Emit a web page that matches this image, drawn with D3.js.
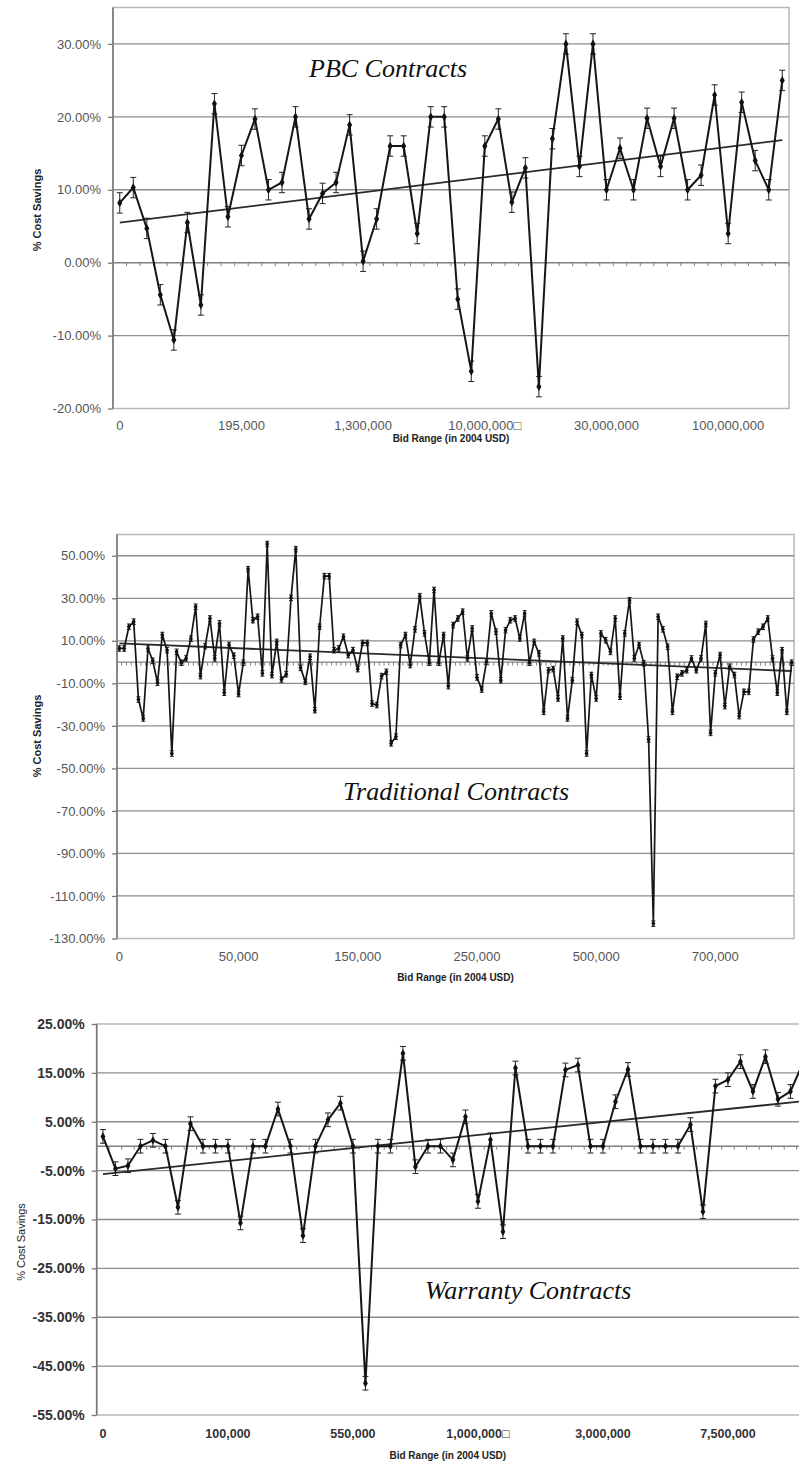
<!DOCTYPE html>
<html><head><meta charset="utf-8">
<script src="https://cdn.jsdelivr.net/npm/d3@7"></script>
<style>
html,body{margin:0;padding:0;background:#fff;}
svg{display:block;}
</style></head><body>
<svg id="c" width="799" height="1465"></svg>
<script>
// ---------- PBC Contracts ----------
const pbcValues = [8.2, 10.3, 4.7, -4.4, -10.6, 5.5, -5.8, 21.8, 6.3, 14.7,
  19.7, 10, 11, 20, 6, 9.5, 11, 18.9, 0.2, 6,
  16, 16, 4, 20, 20, -5, -14.9, 16, 19.7, 8.3,
  13, -17, 17, 30, 13.2, 30, 10, 15.7, 10, 19.8,
  13.2, 19.8, 10, 12, 23, 4, 22, 14, 10, 25];
const pbcXLabels = ["0", "195,000", "1,300,000", "10,000,000\u25A1", "30,000,000", "100,000,000"];
const pbcXLabelIdx = [0, 9, 18, 27, 36, 45];
const pbcYTicks = [-20, -10, 0, 10, 20, 30];
const pbcTrend = [5.5, 16.8];
const pbcErr = 1.4;

// ---------- Traditional Contracts ----------
const tradValues = [6.4, 6.4, 16.6, 19, -17.6, -26.5, 6.4, 0.6, -9.7, 12.7,
  5.6, -43, 4.8, -0.3, 1.7, 11, 26, -6.6, 7.5, 20.5,
  1.7, 18.2, -14.4, 8, 3, -15, -0.3, 43.7, 19.7, 21.3,
  -5.3, 55.5, -6.1, 9.5, -8.2, -5.7, 30.2, 53.1, -2.7, -9.3,
  2.5, -22.6, 16.6, 40.4, 40.4, 5.6, 6.4, 11.9, 3.3, 5.6,
  -3.3, 9, 9, -19.5, -20.2, -6.6, -4.6, -38.2, -35.1, 8,
  12.7, -1.4, 15.4, 31, 13.5, -0.3, 33.9, -0.3, 12.7, -11.3,
  17.4, 20.5, 23.7, 1.7, 15.8, -7.2, -12.9, 0.1, 22.9, 14.3,
  -8.5, 15, 19.7, 20.5, 11.1, 22.9, -0.3, 9.5, 4.1, -23.4,
  -3.8, -3.3, -17.1, 11.1, -26.5, -8.5, 19, 12.7, -43, -6.1,
  -17.1, 13.5, 10.3, 4.8, 20.5, -16.3, 13.5, 29.1, 1.7, 8,
  -0.6, -36.4, -123, 21.3, 15.4, 7.2, -23.4, -6.9, -5.3, -3.8,
  1.7, -3.8, 1.7, 17.9, -33.3, -5.3, 3.3, -20.7, -2.2, -6.1,
  -25.4, -14, -14, 10.6, 14.3, 16.6, 20.5, 1.7, -14.4, 5.6,
  -23.4, -0.3];
const tradXLabels = ["0", "50,000", "150,000", "250,000", "500,000", "700,000"];
const tradXLabelIdx = [0, 25, 50, 75, 100, 125];
const tradYTicks = [-130, -110, -90, -70, -50, -30, -10, 10, 30, 50];
const tradTrend = [8.8, -4.2];
const tradErr = 1.3;

// ---------- Warranty Contracts ----------
const warValues = [2, -4.6, -4.0, 0, 1.2, 0, -12.5, 4.6, 0, 0,
  0, -15.7, 0, 0, 7.6, 0, -18.3, 0, 5.4, 8.8,
  0, -48.5, 0, 0, 19, -4.2, 0, 0, -2.8, 6,
  -11.3, 1.3, -17.5, 16, 0, 0, 0, 15.6, 16.6, 0,
  0, 9.1, 15.7, 0, 0, 0, 0, 4.4, -13.4, 12.3,
  13.6, 17.3, 11.2, 18.3, 9.6, 11.2, 17];
const warXLabels = ["0", "100,000", "550,000", "1,000,000\u25A1", "3,000,000", "7,500,000"];
const warXLabelIdx = [0, 10, 20, 30, 40, 50];
const warYTicks = [-55, -45, -35, -25, -15, -5, 5, 15, 25];
const warTrend = [-5.7, 9.2];
const warErr = 1.4;

const svg = d3.select("#c");
const SANS = "'Liberation Sans', Arial, sans-serif";
const SERIF = "'Liberation Serif', 'Times New Roman', serif";

function drawChart(o) {
  const g = svg.append("g");
  const n = o.values.length;
  const x = d3.scaleBand().domain(d3.range(n)).range([o.left, o.right]);
  const y = d3.scaleLinear().domain(o.yDomain).range([o.bottom, o.top]);
  const cx = i => x(i) + x.bandwidth() / 2;

  // plot border (top/right/bottom)
  g.append("rect").attr("x", o.left).attr("y", o.top)
    .attr("width", o.right - o.left).attr("height", o.bottom - o.top)
    .attr("fill", "none").attr("stroke", "#b8b8b8").attr("stroke-width", 1.5);

  // gridlines
  g.selectAll("line.grid").data(o.yTicks.filter(d => d !== 0 && d !== o.yDomain[0] && d !== o.yDomain[1]))
    .join("line").attr("class", "grid")
    .attr("x1", o.left).attr("x2", o.right)
    .attr("y1", d => y(d)).attr("y2", d => y(d))
    .attr("stroke", "#8c8c8c").attr("stroke-width", 1.3);

  // y axis
  const ya = d3.axisLeft(y).tickValues(o.yTicks).tickSize(5).tickPadding(7)
    .tickFormat(d => d.toFixed(2) + "%");
  const yg = g.append("g").attr("transform", `translate(${o.left},0)`).call(ya);
  yg.select(".domain").remove();
  yg.selectAll(".tick line").attr("stroke", "#777").attr("stroke-width", 1.3);
  yg.selectAll(".tick text").attr("font-family", SANS).attr("font-size", o.yFont)
    .attr("font-weight", o.yBold ? "bold" : "normal").attr("fill", o.yColor);
  g.append("line").attr("x1", o.left).attr("x2", o.left).attr("y1", o.top).attr("y2", o.bottom)
    .attr("stroke", "#7a7a7a").attr("stroke-width", 1.6);

  // category axis at zero with ticks at band boundaries
  const y0 = y(0);
  g.append("line").attr("x1", o.left).attr("x2", o.right).attr("y1", y0).attr("y2", y0)
    .attr("stroke", "#808080").attr("stroke-width", 1.4);
  g.selectAll("line.ctick").data(d3.range(n + 1)).join("line").attr("class", "ctick")
    .attr("x1", i => o.left + i * x.step()).attr("x2", i => o.left + i * x.step())
    .attr("y1", y0).attr("y2", y0 + 3.5)
    .attr("stroke", "#808080").attr("stroke-width", 1);

  // x labels
  const xa = d3.axisBottom(x).tickValues(o.xLabelIdx).tickSize(0).tickPadding(0)
    .tickFormat((d, k) => o.xLabels[k]);
  const xg = g.append("g").attr("transform", `translate(0,${o.xLabelY})`).call(xa);
  xg.select(".domain").remove();
  xg.selectAll(".tick text").attr("dy", 0).attr("y", 0).attr("font-family", SANS)
    .attr("font-size", o.xFont).attr("font-weight", o.xBold ? "bold" : "normal").attr("fill", o.xColor);

  // axis titles
  g.append("text").attr("x", (o.left + Math.min(o.right, 799)) / 2 + (o.xTitleShift || 0)).attr("y", o.xTitleY)
    .attr("text-anchor", "middle").attr("font-family", SANS).attr("font-size", o.xTitleFont)
    .attr("font-weight", "bold").attr("fill", "#222").text("Bid Range (in 2004 USD)");
  g.append("text").attr("transform", `translate(${o.yTitleX},${o.yTitleY}) rotate(-90)`)
    .attr("text-anchor", "middle").attr("font-family", SANS).attr("font-size", o.yTitleFont)
    .attr("font-weight", o.yTitleBold ? "bold" : "normal").attr("fill", "#222").text("% Cost Savings");

  // trend line
  g.append("line").attr("x1", cx(0)).attr("x2", cx(n - 1))
    .attr("y1", y(o.trend[0])).attr("y2", y(o.trend[1]))
    .attr("stroke", "#2a2a2a").attr("stroke-width", 1.8);

  // error bars
  const eb = g.append("g").attr("stroke", "#222").attr("stroke-width", 1);
  o.values.forEach((v, i) => {
    const xc = cx(i), yt = y(v + o.err), yb = y(v - o.err);
    eb.append("line").attr("x1", xc).attr("x2", xc).attr("y1", yt).attr("y2", yb);
    eb.append("line").attr("x1", xc - o.cap).attr("x2", xc + o.cap).attr("y1", yt).attr("y2", yt);
    eb.append("line").attr("x1", xc - o.cap).attr("x2", xc + o.cap).attr("y1", yb).attr("y2", yb);
  });

  // data line
  g.append("path").datum(o.values)
    .attr("d", d3.line().x((d, i) => cx(i)).y(d => y(d)))
    .attr("fill", "none").attr("stroke", "#161616").attr("stroke-width", o.lineW)
    .attr("stroke-linejoin", "miter");

  // markers
  g.selectAll("path.mk").data(o.values).join("path").attr("class", "mk")
    .attr("d", d3.symbol(d3.symbolDiamond, o.mk))
    .attr("transform", (d, i) => `translate(${cx(i)},${y(d)})`)
    .attr("fill", "#111");

  // chart title
  g.append("text").attr("x", o.titleX).attr("y", o.titleY)
    .attr("font-family", SERIF).attr("font-style", "italic").attr("font-size", 26)
    .attr("fill", "#111").text(o.title);
}

drawChart({
  values: pbcValues, xLabels: pbcXLabels, xLabelIdx: pbcXLabelIdx, yTicks: pbcYTicks,
  trend: pbcTrend, err: pbcErr, yDomain: [-20, 35],
  left: 113, right: 789, top: 7.5, bottom: 408.5,
  yFont: 13, yBold: false, yColor: "#555", xFont: 13, xBold: false, xColor: "#555",
  xLabelY: 430, xTitleY: 442, xTitleFont: 10, yTitleX: 41, yTitleY: 210, yTitleFont: 11, yTitleBold: true,
  cap: 3, lineW: 2, mk: 22, title: "PBC Contracts", titleX: 309, titleY: 77
});

drawChart({
  values: tradValues, xLabels: tradXLabels, xLabelIdx: tradXLabelIdx, yTicks: tradYTicks,
  trend: tradTrend, err: tradErr, yDomain: [-130, 60],
  left: 117, right: 794, top: 534.5, bottom: 938.5,
  yFont: 13, yBold: false, yColor: "#555", xFont: 13, xBold: false, xColor: "#555",
  xLabelY: 961, xTitleY: 981, xTitleFont: 10, yTitleX: 41, yTitleY: 736, yTitleFont: 11, yTitleBold: true,
  cap: 2, lineW: 1.7, mk: 14, title: "Traditional Contracts", titleX: 343, titleY: 800
});

drawChart({
  values: warValues, xLabels: warXLabels, xLabelIdx: warXLabelIdx, yTicks: warYTicks,
  trend: warTrend, err: warErr, yDomain: [-55, 25],
  left: 96.7, right: 809.2, top: 1024, bottom: 1415,
  yFont: 14, yBold: true, yColor: "#333", xFont: 12.5, xBold: true, xColor: "#333",
  xLabelY: 1438, xTitleY: 1459, xTitleFont: 10, xTitleShift: 0, yTitleX: 25, yTitleY: 1242, yTitleFont: 11, yTitleBold: false,
  cap: 3, lineW: 2, mk: 20, title: "Warranty Contracts", titleX: 425, titleY: 1299
});
</script>
</body></html>
